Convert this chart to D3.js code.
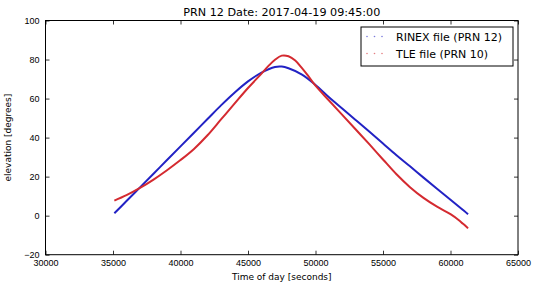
<!DOCTYPE html>
<html>
<head>
<meta charset="utf-8">
<script src="https://cdn.jsdelivr.net/npm/d3@7"></script>
<style>
  body { margin: 0; background: #fff; }
  svg { font-family: "DejaVu Sans", sans-serif; }
  .tick text { font-size: 9px; fill: #000; }
</style>
</head>
<body>
<svg id="chart" width="540" height="289"></svg>
<script>
var titleText = "PRN 12 Date: 2017-04-19 09:45:00";
var xLabel = "Time of day [seconds]";
var yLabel = "elevation [degrees]";

var xTicks = [30000, 35000, 40000, 45000, 50000, 55000, 60000, 65000];
var yTicks = [-20, 0, 20, 40, 60, 80, 100];

var seriesNames = ["RINEX file (PRN 12)", "TLE file (PRN 10)"];

// RINEX (blue)
var rinexTime = [35100, 36000, 37000, 38000, 39000, 40000, 41000, 42000, 43000, 44000, 45000, 46000, 47000, 47500, 48000, 49000, 50000, 51000, 52000, 53000, 54000, 55000, 56000, 57000, 58000, 59000, 60000, 61000, 61300];
var rinexElev = [1.2, 7.5, 14.5, 21.5, 28.5, 35.5, 42.5, 49.5, 56.5, 63, 68.8, 73.3, 76.2, 76.4, 75.5, 72.3, 67, 60.7, 54.8, 48.9, 43, 37, 31, 25.3, 19.5, 13.8, 8.2, 2.5, 0.7];

// TLE (red)
var tleTime = [35100, 36000, 37000, 38000, 39000, 40000, 41000, 42000, 43000, 44000, 45000, 46000, 46500, 47000, 47500, 48000, 48500, 49000, 49500, 50000, 51000, 52000, 53000, 54000, 55000, 56000, 57000, 58000, 59000, 60000, 60600, 60900, 61100, 61300];
var tleElev = [7.7, 10.5, 14.2, 18.5, 23.3, 28.5, 34.2, 41.2, 49.3, 57.4, 65.4, 72.8, 76.6, 79.9, 82, 81.7, 79.5, 75.6, 71.2, 66.6, 59, 51.5, 44, 36.5, 28.8, 21.2, 14.6, 9.1, 4.6, 0.8, -2.2, -4, -5.2, -6.5];

var colors = ["#2222c4", "#d42a30"];

var svg = d3.select("#chart");
var pLeft = 45.5, pRight = 518, pTop = 20.5, pBottom = 254.7;

var x = d3.scaleLinear().domain([30000, 65000]).range([pLeft, pRight]);
var y = d3.scaleLinear().domain([-20, 100]).range([pBottom, pTop]);

function fmt(d) { return d < 0 ? "\u2212" + Math.abs(d) : String(d); }

// axes (ticks pointing inward on all four sides)
var gx = svg.append("g").attr("transform", "translate(0," + pBottom + ")")
  .call(d3.axisBottom(x).tickValues(xTicks).tickSizeInner(-4).tickSizeOuter(0).tickPadding(5).tickFormat(fmt));
var gxt = svg.append("g").attr("transform", "translate(0," + pTop + ")")
  .call(d3.axisTop(x).tickValues(xTicks).tickSizeInner(-4).tickSizeOuter(0).tickFormat(""));
var gy = svg.append("g").attr("transform", "translate(" + pLeft + ",0)")
  .call(d3.axisLeft(y).tickValues(yTicks).tickSizeInner(-4).tickSizeOuter(0).tickPadding(6).tickFormat(fmt));
var gyr = svg.append("g").attr("transform", "translate(" + pRight + ",0)")
  .call(d3.axisRight(y).tickValues(yTicks).tickSizeInner(-4).tickSizeOuter(0).tickFormat(""));
[gx, gxt, gy, gyr].forEach(function(g) {
  g.select(".domain").remove();
  g.selectAll(".tick line").attr("stroke", "#000").attr("stroke-width", 0.8);
});

var line = d3.line()
  .x(function(d) { return x(d[0]); })
  .y(function(d) { return y(d[1]); })
  .curve(d3.curveCatmullRom.alpha(0.5));

var series = [
  d3.zip(rinexTime, rinexElev),
  d3.zip(tleTime, tleElev)
];

svg.selectAll(".series").data(series).enter().append("path")
  .attr("class", "series")
  .attr("fill", "none")
  .attr("stroke", function(d, i) { return colors[i]; })
  .attr("stroke-width", 2)
  .attr("stroke-linejoin", "round")
  .attr("d", line);

// frame
svg.append("rect")
  .attr("x", pLeft).attr("y", pTop)
  .attr("width", pRight - pLeft).attr("height", pBottom - pTop)
  .attr("fill", "none").attr("stroke", "#000").attr("stroke-width", 1);

// title and labels
svg.append("text").attr("x", (pLeft + pRight) / 2).attr("y", 16)
  .attr("text-anchor", "middle").attr("font-size", 11.2).text(titleText);
svg.append("text").attr("x", (pLeft + pRight) / 2).attr("y", 280)
  .attr("text-anchor", "middle").attr("font-size", 9).text(xLabel);
svg.append("text").attr("transform", "translate(11," + ((pTop + pBottom) / 2) + ") rotate(-90)")
  .attr("text-anchor", "middle").attr("font-size", 9).text(yLabel);

// legend
var legend = svg.append("g");
legend.append("rect")
  .attr("x", 361).attr("y", 27).attr("width", 152).attr("height", 39)
  .attr("fill", "#fff").attr("stroke", "#000").attr("stroke-width", 1);
var entry = legend.selectAll(".legendc").data(seriesNames).enter().append("g").attr("class", "legendc");
entry.each(function(name, i) {
  var g = d3.select(this);
  var cy = 36.5 + i * 17;
  [367, 374.5, 382].forEach(function(cx) {
    g.append("circle").attr("cx", cx).attr("cy", cy).attr("r", 0.8)
      .attr("fill", colors[i]).attr("opacity", 0.6);
  });
  g.append("text").attr("x", 396).attr("y", cy + 4)
    .attr("font-size", 11).text(name);
});
</script>
</body>
</html>
